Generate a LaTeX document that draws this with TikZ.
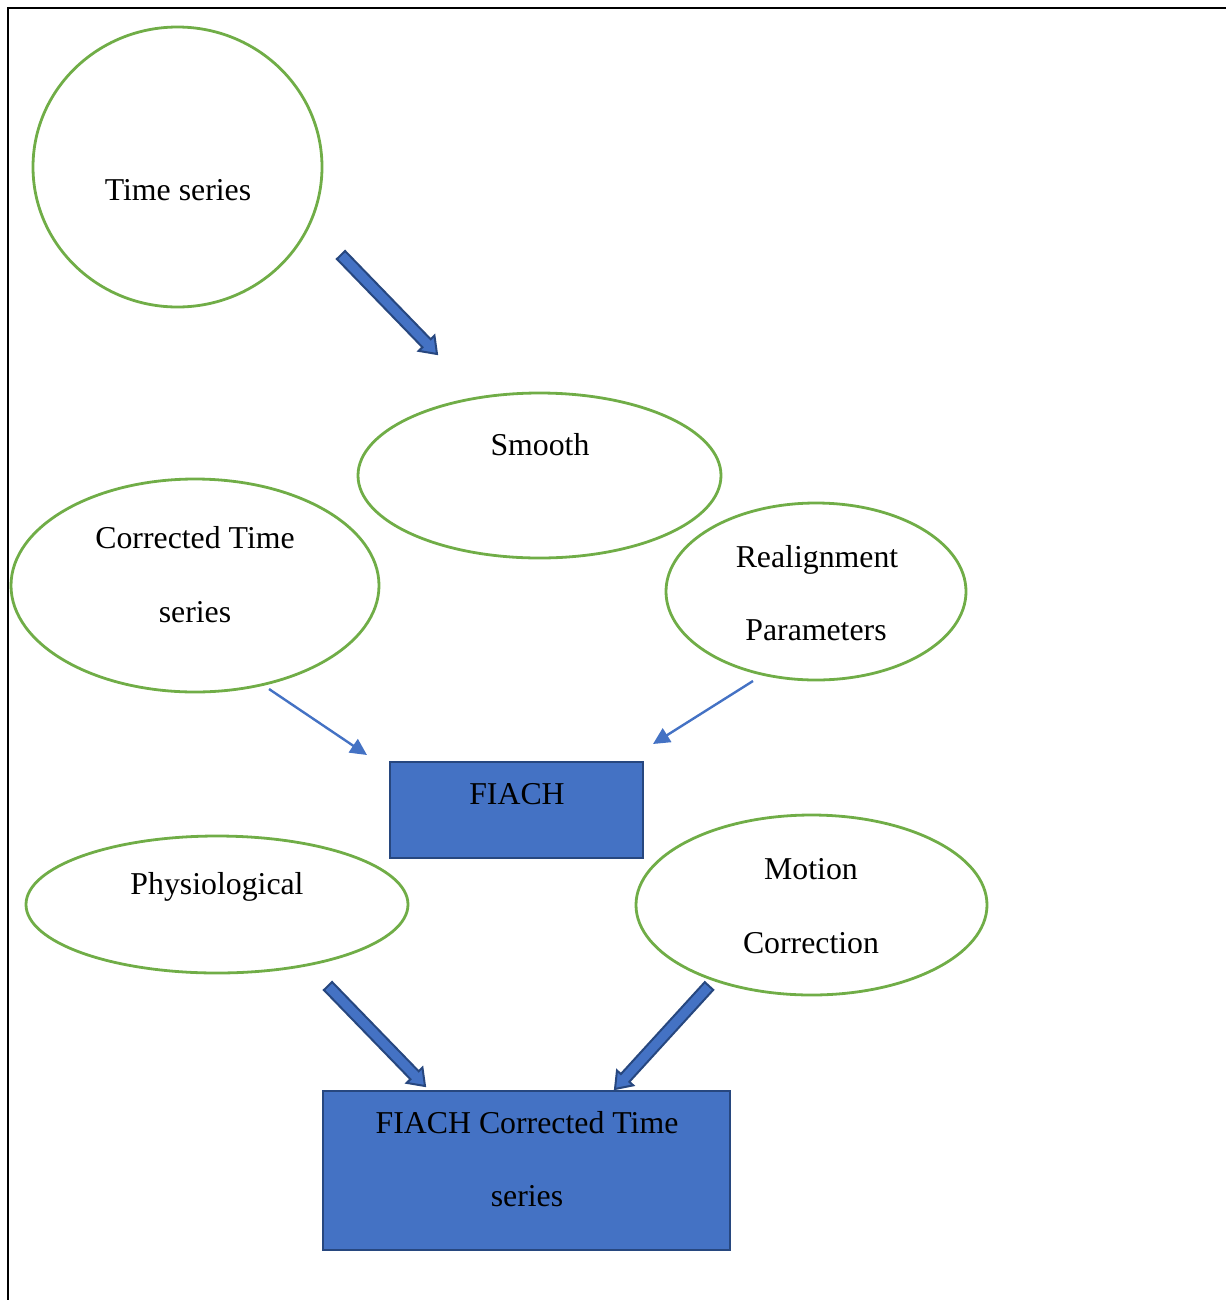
\documentclass[tikz,border=0pt]{standalone}
\usepackage{fontspec}
\setmainfont{Liberation Serif}
\usetikzlibrary{calc,arrows.meta,shapes.geometric}
\definecolor{ogreen}{HTML}{70AD47}
\definecolor{oblue}{HTML}{4472C4}
\definecolor{odark}{HTML}{27477F}
\tikzset{
  oval/.style={ellipse, draw=ogreen, line width=2.1pt, inner sep=0pt},
  bluebox/.style={rectangle, draw=odark, fill=oblue, line width=2.2pt, inner sep=0pt},
  txt/.style={anchor=base, inner sep=0pt, font=\fontsize{23.85}{28}\selectfont},
  thinarr/.style={draw=oblue, line width=1.8pt, -{Triangle[length=12.5pt,width=12pt]}},
  blockarr/.style={draw=odark, fill=oblue, line width=1.5pt, line join=miter}
}
\newcommand{\blockarrow}[2]{%
  \path ($(#2)!11.25pt!(#1)$) coordinate (ba-h);
  \draw[blockarr] ($(#1)!4.3pt!90:(#2)$) -- ($(ba-h)!4.3pt!90:(#2)$) -- ($(ba-h)!8.25pt!90:(#2)$) -- (#2)
    -- ($(ba-h)!8.25pt!-90:(#2)$) -- ($(ba-h)!4.3pt!-90:(#2)$) -- ($(#1)!4.3pt!-90:(#2)$) -- cycle;}
\begin{document}
\begin{tikzpicture}[x=0.75pt,y=-0.75pt]
\useasboundingbox (0,0) rectangle (1226,1300);
% frame
\draw[line width=1.6pt] (8,1300) -- (8,8) -- (1226,8);

% ovals
\node[oval, minimum width=216.75pt, minimum height=210pt] (ts) at (177.5,167) {};
\node[oval, minimum width=272.25pt, minimum height=123.75pt] (sm) at (539.5,475.5) {};
\node[oval, minimum width=276pt, minimum height=159.75pt] (cts) at (195,585.5) {};
\node[oval, minimum width=225pt, minimum height=132.75pt] (rp) at (816,591.5) {};
\node[oval, minimum width=286.5pt, minimum height=102.75pt] (ph) at (217,904.5) {};
\node[oval, minimum width=263.25pt, minimum height=135pt] (mc) at (811.5,905) {};

% boxes
\node[bluebox, minimum width=189.75pt, minimum height=72pt] (fi) at (516.5,810) {};
\node[bluebox, minimum width=305.25pt, minimum height=119.25pt] (fc) at (526.5,1170.5) {};

% texts
\node[txt] (ts-t) at (178,200) {Time series};
\node[txt] (sm-t) at (540,455) {Smooth};
\node[txt] (cts-t1) at (195,548) {Corrected Time};
\node[txt] (cts-t2) at (195,622) {series};
\node[txt] (rp-t1) at (817,567) {Realignment};
\node[txt] (rp-t2) at (816,640) {Parameters};
\node[txt] (fi-t) at (517,804) {FIACH};
\node[txt] (ph-t) at (217,894) {Physiological};
\node[txt] (mc-t1) at (811,879) {Motion};
\node[txt] (mc-t2) at (811,953) {Correction};
\node[txt] (fc-t1) at (527,1133) {FIACH Corrected Time};
\node[txt] (fc-t2) at (527,1206) {series};

% connector end points
\coordinate (a1s) at (341,255);
\coordinate (a1e) at (437,354);
\coordinate (t1s) at (269,689);
\coordinate (t1e) at (367,755);
\coordinate (t2s) at (753,681);
\coordinate (t2e) at (653,744);
\coordinate (a2s) at (328,986);
\coordinate (a2e) at (425,1086);
\coordinate (a3s) at (709,986);
\coordinate (a3e) at (615,1089);

% thin arrows
\draw[thinarr] (t1s) -- (t1e);
\draw[thinarr] (t2s) -- (t2e);

% block arrows
\blockarrow{a1s}{a1e}
\blockarrow{a2s}{a2e}
\blockarrow{a3s}{a3e}
\end{tikzpicture}
\end{document}
